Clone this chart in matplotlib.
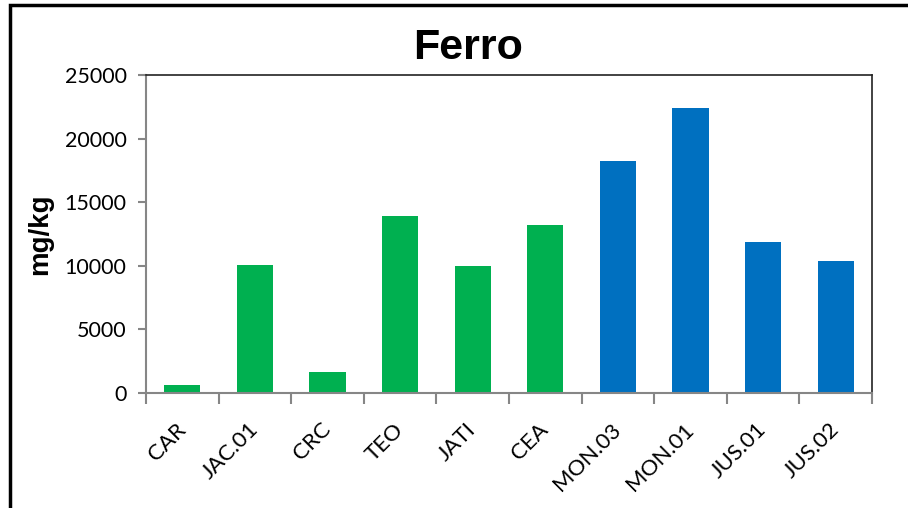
import matplotlib
matplotlib.use("Agg")
import matplotlib.pyplot as plt
from matplotlib.patches import Rectangle
import numpy as np

# Chart data
categories = ["CAR", "JAC.01", "CRC", "TEO", "JATI", "CEA",
              "MON.03", "MON.01", "JUS.01", "JUS.02"]
values = [630, 10060, 1650, 13900, 10000, 13200,
          18250, 22400, 11870, 10380]
groups = ["g", "g", "g", "g", "g", "g", "b", "b", "b", "b"]
group_colors = {"g": "#00B050", "b": "#0070C0"}

fig = plt.figure(figsize=(9.08, 5.08), dpi=100)
ax = fig.add_axes([0.1608, 0.2264, 0.7996, 0.626])

x = np.arange(len(categories))
ax.bar(x, values, width=0.5, color=[group_colors[g] for g in groups], zorder=2)

ax.set_xlim(-0.5, len(categories) - 0.5)
ax.set_ylim(0, 25000)
ax.set_yticks(np.arange(0, 25001, 5000))

# category labels on major ticks (hidden), tick marks between categories
ax.set_xticks(x)
ax.set_xticklabels(categories, rotation=45, ha="right", va="center",
                   rotation_mode="anchor", fontsize=16, family="Lato")
ax.tick_params(axis="x", which="major", length=0, pad=24)
ax.set_xticks(np.arange(-0.5, len(categories), 1), minor=True)
ax.tick_params(axis="x", which="minor", length=8, width=1.5, color="#868686")
ax.tick_params(axis="y", length=6, width=1.5, color="#868686", labelsize=15.5, pad=8)
for lbl in ax.get_yticklabels():
    lbl.set_family("Lato")

for side in ["left", "bottom"]:
    ax.spines[side].set_color("#868686")
    ax.spines[side].set_linewidth(1.5)
for side in ["top", "right"]:
    ax.spines[side].set_color("#222222")
    ax.spines[side].set_linewidth(1.2)

ax.set_ylabel("mg/kg", fontsize=20, fontweight="bold", family="Liberation Sans", labelpad=8)
fig.text(0.515, 0.905, "Ferro", ha="center", va="center",
         fontsize=31, fontweight="bold", family="Liberation Sans")

# outer chart frame (only left/top edges visible in the crop)
fig.add_artist(Rectangle((0.011, -0.2), 1.5, 1.19, transform=fig.transFigure,
                         fill=False, edgecolor="black", linewidth=2.5))

fig.savefig("out.png", dpi=100)
